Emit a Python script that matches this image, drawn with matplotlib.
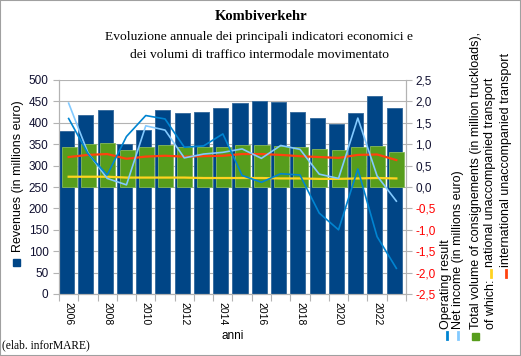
import numpy as np
import matplotlib.pyplot as plt
from matplotlib.patches import Rectangle
from matplotlib.lines import Line2D
from matplotlib.ticker import FixedLocator, FuncFormatter

plt.rcParams['font.family'] = ['Liberation Sans', 'DejaVu Sans']

years = list(range(2006, 2024))
# revenues, millions of euro (left axis)
revenues = [381, 418, 431, 350, 384, 430, 424, 425, 434, 447, 450, 448, 425, 411, 397, 422, 463, 435]
# volumes, million truckloads (right axis)
volume = [0.93, 1.00, 1.03, 0.86, 0.93, 0.97, 0.93, 0.93, 0.93, 0.97, 0.98, 0.96, 0.93, 0.89, 0.86, 0.93, 0.96, 0.82]
national = [0.24, 0.24, 0.24, 0.22, 0.22, 0.22, 0.22, 0.21, 0.21, 0.21, 0.21, 0.20, 0.20, 0.19, 0.19, 0.20, 0.21, 0.20]
international = [0.70, 0.75, 0.77, 0.66, 0.71, 0.73, 0.71, 0.72, 0.73, 0.77, 0.77, 0.75, 0.72, 0.70, 0.68, 0.75, 0.76, 0.63]
# millions of euro (right axis)
operating = [1.60, 0.78, 0.28, 1.18, 1.67, 1.59, 0.93, 0.96, 1.24, 0.27, 0.11, 0.31, 0.28, -0.61, -1.00, 0.42, -1.16, -1.90]
net_income = [1.96, 0.80, 0.20, 0.05, 1.43, 1.33, 0.68, 0.77, 0.81, 0.89, 0.67, 0.97, 0.88, 0.30, 0.20, 1.61, 0.26, -0.33]

W, H = 521, 356


def fx(x):
    return x / W


def fy(y):
    return 1 - y / H


fig = plt.figure(figsize=(W / 100, H / 100), dpi=100)
ax = fig.add_axes([fx(59), fy(294), (406 - 59) / W, (294 - 80) / H])
ax2 = ax.twinx()

pos = np.arange(len(years))
grey = '#b3b3b3'

ax.bar(pos - 0.5, revenues, width=0.78, align='edge', color='#004586',
       edgecolor='#3c6f9f', linewidth=0.7, zorder=2)
ax.set_ylim(0, 500)
ax.set_xlim(-0.5, len(years) - 0.5)
ax.set_yticks(np.arange(0, 501, 50))
ax.set_axisbelow(True)
ax.grid(axis='y', color=grey, linewidth=0.8)

ax2.bar(pos - 0.36, volume, width=0.78, align='edge', color='#579d1c',
        edgecolor='#86b95a', linewidth=0.6, zorder=2)
ax2.plot(pos, national, color='#ffd320', lw=1.6, zorder=3)
ax2.plot(pos, international, color='#ff420e', lw=1.6, zorder=3)
ax2.plot(pos, net_income, color='#83caff', lw=1.2, zorder=4)
ax2.plot(pos, operating, color='#0084d1', lw=1.2, zorder=4)
ax2.set_ylim(-2.5, 2.5)
ax2.set_yticks(np.arange(-2.5, 2.51, 0.5))
ax2.yaxis.set_major_formatter(FuncFormatter(lambda v, p: f'{v:.1f}'.replace('.', ',')))

# x axis: ticks at category boundaries, labels every other year
ax.xaxis.set_major_locator(FixedLocator(np.arange(len(years) + 1) - 0.5))
ax.xaxis.set_major_formatter(FuncFormatter(lambda v, p: ''))
ax.xaxis.set_minor_locator(FixedLocator(pos[::2]))
ax.set_xticklabels([str(y) for y in years[::2]], minor=True)
ax.tick_params(axis='x', which='major', length=5, color=grey, direction='out')
ax.tick_params(axis='x', which='minor', length=0, pad=6, labelsize=7.5,
               labelrotation=-90)

ax.tick_params(axis='y', length=4, color=grey, pad=3.5, labelsize=8.5,
               labelcolor='#101030')
ax2.tick_params(axis='y', length=4, color=grey, pad=2.5, labelsize=8.5)
for lbl, v in zip(ax2.get_yticklabels(), ax2.get_yticks()):
    lbl.set_color('#ff0000' if v < 0 else '#101030')

for a in (ax, ax2):
    for s in a.spines.values():
        s.set_color(grey)
    a.spines['top'].set_visible(False)

# titles
fig.text(fx(261), fy(17), 'Kombiverkehr', ha='center', va='center',
         family='Liberation Serif', weight='bold', fontsize=10.5)
fig.text(fx(259), fy(37), 'Evoluzione annuale dei principali indicatori economici e',
         ha='center', va='center', family='Liberation Serif', fontsize=9.7)
fig.text(fx(260), fy(55), 'dei volumi di traffico intermodale movimentato',
         ha='center', va='center', family='Liberation Serif', fontsize=9.7)
fig.text(fx(232.5), fy(336), 'anni', ha='center', va='center', fontsize=8.5)
fig.text(fx(2), fy(345), '(elab. inforMARE)', ha='left', va='center',
         family='Liberation Serif', fontsize=8.3)

# legend, drawn by hand as rotated text
def rot_text(x, y, s):
    fig.text(fx(x), fy(y), s, rotation=90, rotation_mode='anchor',
             ha='left', va='center', fontsize=9)


def square(x, y, color, size=7):
    fig.add_artist(Rectangle((fx(x - size / 2), fy(y + size / 2)), size / W, size / H,
                             transform=fig.transFigure, color=color))


def seg(x, y0, y1, color):
    fig.add_artist(Line2D([fx(x), fx(x)], [fy(y0), fy(y1)], color=color, lw=2.0,
                          transform=fig.transFigure))


square(16.5, 262, '#004586')
rot_text(17.5, 252, 'Revenues (in millions euro)')

seg(446.5, 339, 332, '#0084d1')
rot_text(446.5, 329, 'Operating result')
seg(457.5, 339, 332, '#83caff')
rot_text(457.5, 329, 'Net income (in millions euro)')
square(475.5, 336, '#579d1c')
rot_text(475.5, 329, 'Total volume of consignements (in million truckloads),')
rot_text(490.5, 329, 'of which:')
seg(490.5, 277, 270, '#ffd320')
rot_text(490.5, 267, 'national unaccompanied transport')
seg(505.5, 277, 270, '#ff420e')
rot_text(505.5, 267, 'international unaccompanied transport')

fig.add_artist(Rectangle((0, 0), 1, 1, transform=fig.transFigure, fill=False,
                         edgecolor='#a0a0a0', lw=1.5))

fig.savefig('out.png', dpi=100)
